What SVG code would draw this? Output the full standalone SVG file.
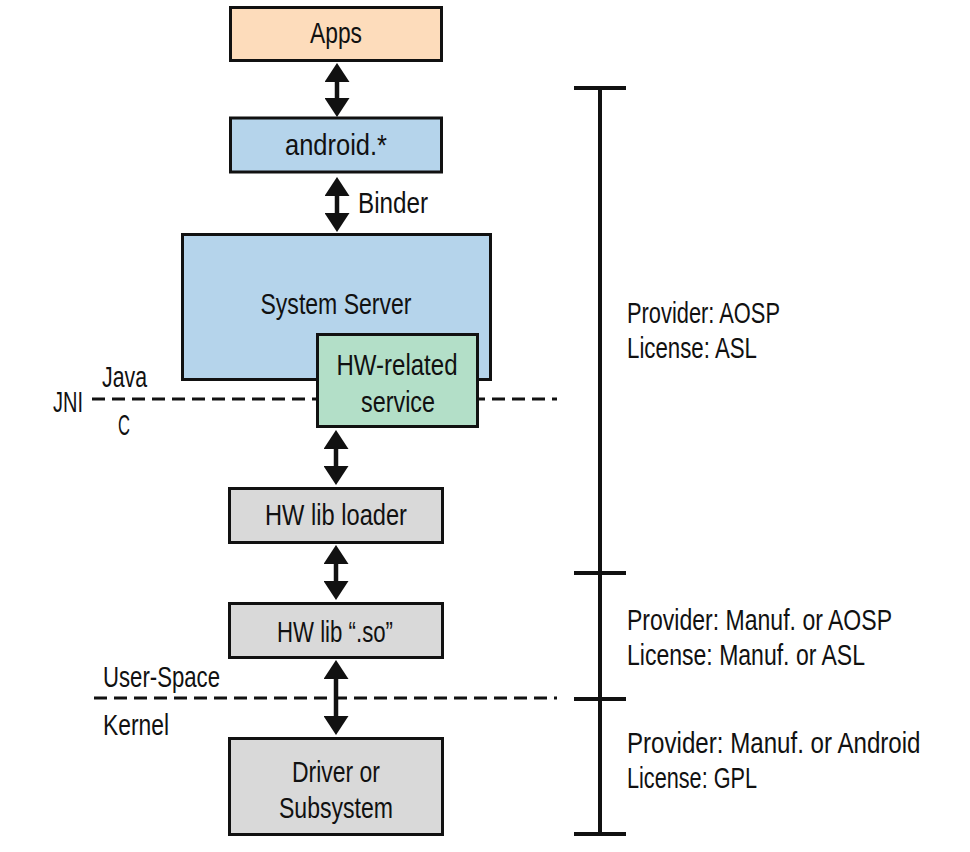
<svg xmlns="http://www.w3.org/2000/svg" width="970" height="852" viewBox="0 0 970 852">
<style>
text{font-family:"Liberation Sans",Arial,sans-serif;font-size:29px;fill:#111}
.c{text-anchor:middle}
.box{stroke:#111;stroke-width:3}
.orange{fill:#fddcbb}
.blue{fill:#b5d4eb}
.green{fill:#b3dfc8}
.grey{fill:#d9d9d9}
.arr{stroke:#111;stroke-width:4.5;marker-start:url(#ah);marker-end:url(#ah)}
.dash{stroke:#111;stroke-width:3;stroke-dasharray:13 7;fill:none}
.brk{stroke:#111;stroke-width:4;fill:none}
</style>
<defs>
<marker id="ah" markerUnits="userSpaceOnUse" markerWidth="19" markerHeight="25" viewBox="0 0 19 25" refX="6" refY="12.5" orient="auto-start-reverse">
<path d="M0,0 L19,12.5 L0,25 z" fill="#111"/>
</marker>
</defs>

<g id="dividers">
<line class="dash" x1="92" y1="399" x2="557" y2="399"/>
<line class="dash" x1="94" y1="698" x2="557" y2="698"/>
<text x="53" y="412" textLength="30" lengthAdjust="spacingAndGlyphs">JNI</text>
<text x="102" y="387" textLength="45" lengthAdjust="spacingAndGlyphs">Java</text>
<text x="118" y="435" textLength="12" lengthAdjust="spacingAndGlyphs">C</text>
<text x="103" y="687" textLength="117" lengthAdjust="spacingAndGlyphs">User-Space</text>
<text x="103" y="735" textLength="66" lengthAdjust="spacingAndGlyphs">Kernel</text>
</g>

<g id="apps">
<rect class="box orange" x="230.5" y="7.5" width="211" height="53"/>
<text class="c" x="336" y="43" textLength="52" lengthAdjust="spacingAndGlyphs">Apps</text>
</g>
<g id="android">
<rect class="box blue" x="230.5" y="118" width="211" height="54"/>
<text class="c" x="336" y="155" textLength="102" lengthAdjust="spacingAndGlyphs">android.*</text>
</g>
<g id="system-server">
<rect class="box blue" x="182.5" y="234.5" width="308" height="145"/>
<text class="c" x="336" y="314" textLength="151" lengthAdjust="spacingAndGlyphs">System Server</text>
</g>
<g id="hw-related-service">
<rect class="box green" x="317.5" y="334.5" width="160" height="92"/>
<text class="c" x="397" y="375" textLength="121" lengthAdjust="spacingAndGlyphs">HW-related</text>
<text class="c" x="398" y="412" textLength="74" lengthAdjust="spacingAndGlyphs">service</text>
</g>
<g id="hw-lib-loader">
<rect class="box grey" x="229.5" y="488.5" width="213" height="54"/>
<text class="c" x="336" y="525" textLength="142" lengthAdjust="spacingAndGlyphs">HW lib loader</text>
</g>
<g id="hw-lib-so">
<rect class="box grey" x="229.5" y="603.5" width="213" height="54"/>
<text class="c" x="335" y="642" textLength="116" lengthAdjust="spacingAndGlyphs">HW lib “.so”</text>
</g>
<g id="driver">
<rect class="box grey" x="229.5" y="738.5" width="213" height="96"/>
<text class="c" x="336" y="782" textLength="88" lengthAdjust="spacingAndGlyphs">Driver or</text>
<text class="c" x="336" y="818" textLength="114" lengthAdjust="spacingAndGlyphs">Subsystem</text>
</g>

<g id="connectors">
<line class="arr" x1="337" y1="76" x2="337" y2="104"/>
<line class="arr" x1="337" y1="190" x2="337" y2="219"/>
<line class="arr" x1="336" y1="443" x2="336" y2="472"/>
<line class="arr" x1="336" y1="558" x2="336" y2="587"/>
<line class="arr" x1="336" y1="673" x2="336" y2="722"/>
<text x="358" y="213" textLength="70" lengthAdjust="spacingAndGlyphs">Binder</text>
</g>

<g id="bracket">
<line class="brk" x1="600" y1="88" x2="600" y2="834"/>
<line class="brk" x1="574" y1="88" x2="626" y2="88"/>
<line class="brk" x1="574" y1="573" x2="626" y2="573"/>
<line class="brk" x1="574" y1="699" x2="626" y2="699"/>
<line class="brk" x1="574" y1="834" x2="626" y2="834"/>
<text x="627" y="323" textLength="153" lengthAdjust="spacingAndGlyphs">Provider: AOSP</text>
<text x="627" y="358" textLength="130" lengthAdjust="spacingAndGlyphs">License: ASL</text>
<text x="627" y="630" textLength="265" lengthAdjust="spacingAndGlyphs">Provider: Manuf. or AOSP</text>
<text x="627" y="665" textLength="238" lengthAdjust="spacingAndGlyphs">License: Manuf. or ASL</text>
<text transform="translate(627,753) scale(0.832,1)" x="0" y="0">Provider: Manuf. or Android</text>
<text x="627" y="788" textLength="130" lengthAdjust="spacingAndGlyphs">License: GPL</text>
</g>
</svg>
